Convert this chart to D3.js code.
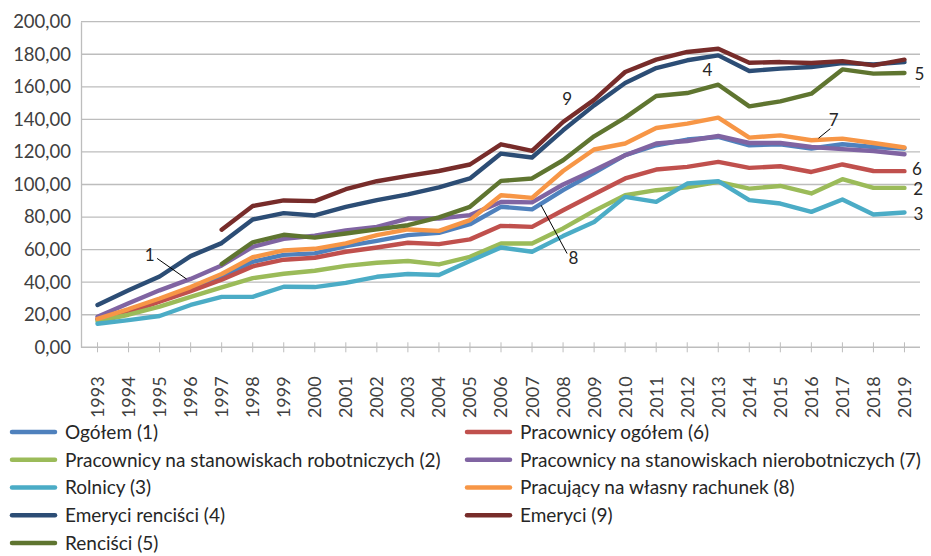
<!DOCTYPE html>
<html>
<head>
<meta charset="utf-8">
<script src="https://cdn.jsdelivr.net/npm/d3@7"></script>
<style>
  body { margin: 0; background: #fff; }
  svg { display: block; font-family: Lato, "Open Sans", sans-serif; }
</style>
</head>
<body>
<div id="chart"></div>
<script>
// categories
const years = ["1993","1994","1995","1996","1997","1998","1999","2000","2001","2002","2003","2004","2005",
  "2006","2007","2008","2009","2010","2011","2012","2013","2014","2015","2016","2017","2018","2019"];

// series values
const ogolem = [17, 22.5, 29, 35.5, 43.5, 52.5, 56.8, 57.7, 62.1, 65.4, 68.9, 70.3, 75.6, 86.3, 84.7, 96.5,
  107.1, 118, 124.1, 127.6, 129.2, 124.1, 124.7, 122.1, 124.7, 123, 122.1];
const pracownicyOgolem = [17.5, 21.5, 28, 34.5, 41.5, 49.7, 53.8, 55, 58.7, 61.3, 64.2, 63.4, 66.3, 74.6, 74,
  84.2, 94, 103.7, 109.2, 110.8, 113.9, 110.2, 111.2, 107.7, 112.3, 108.3, 108.2];
const robotnicy = [16, 20, 25, 31, 36.8, 42.5, 45.2, 47, 50, 51.9, 53, 50.9, 55.6, 63.8, 63.8, 73, 83.8,
  93.4, 96.5, 98.2, 101.6, 97.5, 99.1, 94.5, 103.3, 97.9, 97.9];
const nierobotnicy = [18.8, 27, 35, 42, 50.3, 61.7, 66.6, 68.5, 71.8, 74, 79.1, 79.1, 81.2, 89.3, 89, 100,
  108.8, 118, 125.2, 126.7, 129.8, 125.5, 125.5, 123, 121.7, 120.6, 118.6];
const rolnicy = [14.5, 16.7, 19.2, 26, 31, 31, 37.2, 37, 39.6, 43.3, 45, 44.4, 53, 61.3, 58.7, 68.3, 77,
  92.4, 89.3, 100.6, 102, 90.4, 88.3, 83.2, 90.8, 81.6, 82.8];
const wlasnyRachunek = [17.5, 23.5, 30, 37, 45, 55.3, 59.5, 60.5, 63.8, 68.9, 72.4, 71.5, 78.1, 93.4, 91.8,
  108.3, 121.5, 125.2, 134.7, 137.4, 141.1, 128.8, 130.2, 127.2, 128.2, 125.5, 122.7];
const emeryciRencisci = [26, 35, 43.5, 56, 64, 78.5, 82.4, 81, 86.3, 90.4, 93.9, 98.2, 103.7, 119, 116.6,
  133.3, 148.6, 162.3, 171.5, 176.3, 179.3, 169.7, 171.2, 172.2, 174.6, 173.8, 175.2];
const emeryci = [null, null, null, null, 72.2, 86.8, 90.2, 89.8, 97.1, 102, 105.3, 108.3, 112.3, 124.7,
  120.6, 138.4, 152, 169.1, 176.7, 181.4, 183.4, 174.8, 175.2, 174.6, 175.8, 173.2, 176.7];
const rencisci = [null, null, null, null, 51.2, 64.5, 69.1, 67.4, 69.9, 72.4, 75, 79.8, 86.3, 102.2, 103.7,
  114.9, 129.6, 141.1, 154.4, 156.2, 161.3, 148, 151.1, 155.8, 170.7, 168.1, 168.5];

// legend names, in series order
const names = ["Ogółem (1)", "Pracownicy ogółem (6)", "Pracownicy na stanowiskach robotniczych (2)",
  "Pracownicy na stanowiskach nierobotniczych (7)", "Rolnicy (3)", "Pracujący na własny rachunek (8)",
  "Emeryci renciści (4)", "Emeryci (9)", "Renciści (5)"];
const colors = ["#4F81BD", "#C0504D", "#9BBB59", "#8064A2", "#4BACC6", "#F79646", "#2C4D75", "#772C2A", "#5F7530"];
const values = [ogolem, pracownicyOgolem, robotnicy, nierobotnicy, rolnicy, wlasnyRachunek,
  emeryciRencisci, emeryci, rencisci];

// y tick values
const yTicks = [0, 20, 40, 60, 80, 100, 120, 140, 160, 180, 200];

// number labels on the lines, in data units (fractional year, value)
const notes = [
  { text: "1", x: 1994.68, y: 56.6, from: [1994.92, 54.6], to: [1995.87, 41.9] },
  { text: "9", x: 2008.13, y: 152.3 },
  { text: "8", x: 2008.33, y: 55.2, from: [2007.29, 87.3], to: [2008.13, 57.6] },
  { text: "4", x: 2012.65, y: 170.7 },
  { text: "7", x: 2016.72, y: 139.6, from: [2016.61, 134.3], to: [2016.23, 128.4] },
  { text: "5", x: 2019.48, y: 168.1 },
  { text: "6", x: 2019.4, y: 109.6 },
  { text: "2", x: 2019.44, y: 97.4 },
  { text: "3", x: 2019.45, y: 82.2 }
];

const W = 931, H = 556;
const plot = { left: 82, right: 920, top: 21.7, bottom: 347.3 };

const svg = d3.select("#chart").append("svg")
  .attr("width", W)
  .attr("height", H);

const x = d3.scaleBand().domain(years).range([plot.left, plot.right]).paddingInner(0).paddingOuter(0);
const xc = d => x(d) + x.bandwidth() / 2;
const xYear = d3.scaleLinear().domain([1993, 2019]).range([xc("1993"), xc("2019")]);
const y = d3.scaleLinear().domain([0, 200]).range([plot.bottom, plot.top]);

const fmt = v => d3.format(".2f")(v).replace(".", ",");

// gridlines
svg.append("g")
  .selectAll("line")
  .data(yTicks.filter(d => d > 0))
  .enter().append("line")
  .attr("x1", plot.left - 1)
  .attr("x2", plot.right)
  .attr("y1", d => y(d))
  .attr("y2", d => y(d))
  .attr("stroke", "#BDBDBD")
  .attr("stroke-width", 1.3);

// y axis
const yAxis = svg.append("g")
  .attr("transform", `translate(${plot.left - 1},0)`)
  .call(d3.axisLeft(y).tickValues(yTicks).tickFormat(fmt).tickSize(0).tickPadding(10));
yAxis.select(".domain").attr("stroke", "#BDBDBD").attr("stroke-width", 1.3);
yAxis.selectAll("text")
  .attr("fill", "#404040")
  .style("font-size", "18.5px")
  .style("font-family", "Lato");

// x axis
const xAxis = svg.append("g")
  .attr("transform", `translate(0,${y(0)})`)
  .call(d3.axisBottom(x).tickSizeInner(5).tickSizeOuter(0).tickPadding(30));
xAxis.select(".domain").attr("stroke", "#BDBDBD").attr("stroke-width", 1.5)
  .attr("d", `M${plot.left - 1},0H${plot.right}`);
xAxis.selectAll(".tick line").attr("stroke", "#BDBDBD").attr("y1", -5).attr("y2", 5);
xAxis.selectAll(".tick text")
  .attr("fill", "#404040")
  .style("font-size", "18px")
  .style("font-family", "Lato")
  .attr("text-anchor", "end")
  .attr("transform", "rotate(-90)")
  .attr("x", -29)
  .attr("y", 0)
  .attr("dy", "0.36em");

// lines
const line = d3.line()
  .defined(d => d.v !== null)
  .x(d => xc(d.year))
  .y(d => y(d.v));

svg.append("g")
  .selectAll("path")
  .data(values.map((vals, i) => ({ i, pts: vals.map((v, j) => ({ year: years[j], v })) })))
  .enter().append("path")
  .attr("fill", "none")
  .attr("stroke", d => colors[d.i])
  .attr("stroke-width", 4.4)
  .attr("stroke-linejoin", "round")
  .attr("stroke-linecap", "round")
  .attr("d", d => line(d.pts));

// number labels
const ann = svg.append("g");
ann.selectAll("line")
  .data(notes.filter(d => d.from))
  .enter().append("line")
  .attr("x1", d => xYear(d.from[0]))
  .attr("y1", d => y(d.from[1]))
  .attr("x2", d => xYear(d.to[0]))
  .attr("y2", d => y(d.to[1]))
  .attr("stroke", "#000")
  .attr("stroke-width", 1);
ann.selectAll("text")
  .data(notes)
  .enter().append("text")
  .attr("x", d => xYear(d.x))
  .attr("y", d => y(d.y))
  .attr("dy", "0.36em")
  .attr("text-anchor", "middle")
  .attr("fill", "#262626")
  .style("font-size", "17px")
  .text(d => d.text);

// legend: left column 1-5, right column 6-9
const leftOrder = [0, 2, 4, 6, 8];
const rightOrder = [1, 3, 5, 7];
const legendItems = [
  ...leftOrder.map((s, r) => ({ s, col: 0, row: r })),
  ...rightOrder.map((s, r) => ({ s, col: 1, row: r }))
];
const colX = [12, 467];
const rowY = d3.scaleLinear().domain([0, 4]).range([432, 543]);

const leg = svg.append("g")
  .selectAll("g")
  .data(legendItems)
  .enter().append("g")
  .attr("transform", d => `translate(${colX[d.col]},${rowY(d.row)})`);
leg.append("line")
  .attr("x1", 0).attr("x2", 43)
  .attr("stroke", d => colors[d.s])
  .attr("stroke-width", 4.5)
  .attr("stroke-linecap", "round");
leg.append("text")
  .attr("x", 53)
  .attr("dy", "0.36em")
  .attr("fill", "#262626")
  .style("font-size", "19px")
  .text(d => names[d.s]);
</script>
</body>
</html>
